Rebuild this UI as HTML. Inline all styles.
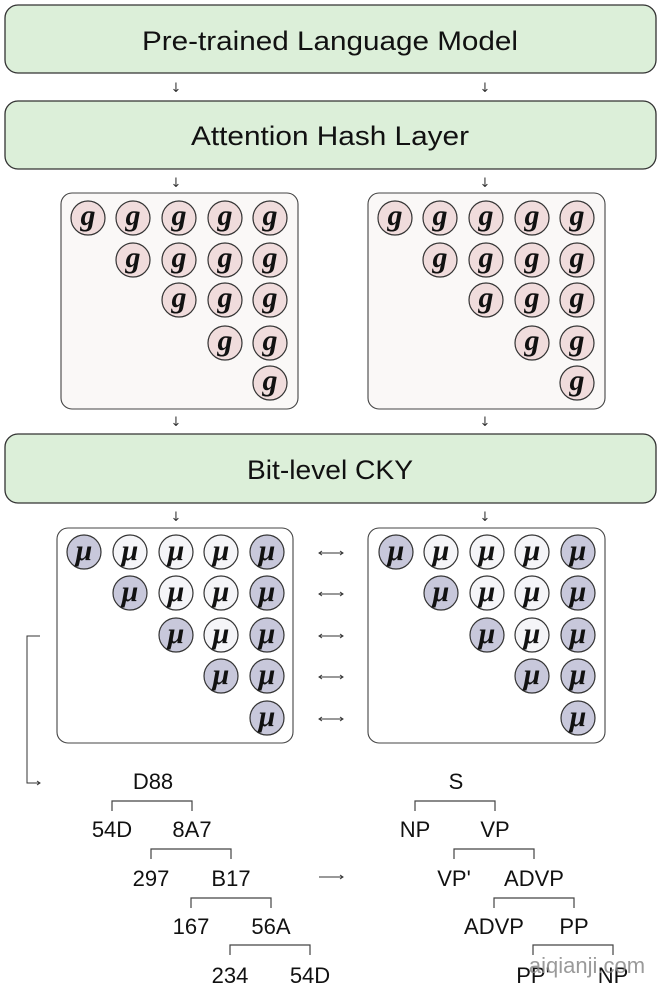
<!DOCTYPE html>
<html><head><meta charset="utf-8"><style>
html,body{margin:0;padding:0;background:#fff;}
svg{display:block;}
.t{font-family:"Liberation Sans",sans-serif;fill:#111;}
.g{font-family:"Liberation Serif",serif;font-style:italic;font-weight:bold;font-size:30px;fill:#111;text-anchor:middle;}
.tr{font-family:"Liberation Sans",sans-serif;font-size:22px;fill:#111;text-anchor:middle;}
.ar{font-family:"DejaVu Sans",sans-serif;font-size:13px;fill:#333;text-anchor:middle;}
</style></head><body>
<svg width="660" height="984" viewBox="0 0 660 984" xmlns="http://www.w3.org/2000/svg">
<defs>
<g id="gc"><circle r="17" fill="#f0dcdc" stroke="#333" stroke-width="1.2"/><text class="g" y="7">g</text></g>
<g id="md"><circle r="17" fill="#c8c8db" stroke="#333" stroke-width="1.2"/><text class="g" y="8">μ</text></g>
<g id="ml"><circle r="17" fill="#f5f5f8" stroke="#333" stroke-width="1.2"/><text class="g" y="8">μ</text></g>
</defs>
<rect x="5" y="5" width="651" height="68" rx="13" fill="#dcefd9" stroke="#333" stroke-width="1.3"/>
<text class="t" x="330" y="50" font-size="27" text-anchor="middle" textLength="376" lengthAdjust="spacingAndGlyphs">Pre-trained Language Model</text>
<rect x="5" y="101" width="651" height="68" rx="13" fill="#dcefd9" stroke="#333" stroke-width="1.3"/>
<text class="t" x="330" y="145" font-size="27" text-anchor="middle" textLength="278" lengthAdjust="spacingAndGlyphs">Attention Hash Layer</text>
<rect x="5" y="434" width="651" height="69" rx="13" fill="#dcefd9" stroke="#333" stroke-width="1.3"/>
<text class="t" x="330" y="479" font-size="27" text-anchor="middle" textLength="166" lengthAdjust="spacingAndGlyphs">Bit-level CKY</text>
<text class="ar" x="176" y="92">↓</text><text class="ar" x="485" y="92">↓</text>
<text class="ar" x="176" y="187">↓</text><text class="ar" x="485" y="187">↓</text>
<text class="ar" x="176" y="426">↓</text><text class="ar" x="485" y="426">↓</text>
<text class="ar" x="176" y="521">↓</text><text class="ar" x="485" y="521">↓</text>
<rect x="61" y="193" width="237" height="216" rx="11" fill="#faf8f7" stroke="#444" stroke-width="1.1"/>
<rect x="368" y="193" width="237" height="216" rx="11" fill="#faf8f7" stroke="#444" stroke-width="1.1"/>
<rect x="57" y="528" width="236" height="215" rx="11" fill="#fff" stroke="#444" stroke-width="1.1"/>
<rect x="368" y="528" width="237" height="215" rx="11" fill="#fff" stroke="#444" stroke-width="1.1"/>
<use href="#gc" x="88" y="218"/><use href="#gc" x="133" y="218"/><use href="#gc" x="179" y="218"/><use href="#gc" x="225" y="218"/><use href="#gc" x="270" y="218"/>
<use href="#gc" x="133" y="260"/><use href="#gc" x="179" y="260"/><use href="#gc" x="225" y="260"/><use href="#gc" x="270" y="260"/>
<use href="#gc" x="179" y="300"/><use href="#gc" x="225" y="300"/><use href="#gc" x="270" y="300"/>
<use href="#gc" x="225" y="343"/><use href="#gc" x="270" y="343"/>
<use href="#gc" x="270" y="383"/>
<use href="#gc" x="395" y="218"/><use href="#gc" x="440" y="218"/><use href="#gc" x="486" y="218"/><use href="#gc" x="532" y="218"/><use href="#gc" x="577" y="218"/>
<use href="#gc" x="440" y="260"/><use href="#gc" x="486" y="260"/><use href="#gc" x="532" y="260"/><use href="#gc" x="577" y="260"/>
<use href="#gc" x="486" y="300"/><use href="#gc" x="532" y="300"/><use href="#gc" x="577" y="300"/>
<use href="#gc" x="532" y="343"/><use href="#gc" x="577" y="343"/>
<use href="#gc" x="577" y="383"/>
<use href="#md" x="84" y="552"/><use href="#ml" x="130" y="552"/><use href="#ml" x="176" y="552"/><use href="#ml" x="221" y="552"/><use href="#md" x="267" y="552"/>
<use href="#md" x="130" y="593"/><use href="#ml" x="176" y="593"/><use href="#ml" x="221" y="593"/><use href="#md" x="267" y="593"/>
<use href="#md" x="176" y="635"/><use href="#ml" x="221" y="635"/><use href="#md" x="267" y="635"/>
<use href="#md" x="221" y="676"/><use href="#md" x="267" y="676"/>
<use href="#md" x="267" y="718"/>
<use href="#md" x="396" y="552"/><use href="#ml" x="441" y="552"/><use href="#ml" x="487" y="552"/><use href="#ml" x="532" y="552"/><use href="#md" x="578" y="552"/>
<use href="#md" x="441" y="593"/><use href="#ml" x="487" y="593"/><use href="#ml" x="532" y="593"/><use href="#md" x="578" y="593"/>
<use href="#md" x="487" y="635"/><use href="#ml" x="532" y="635"/><use href="#md" x="578" y="635"/>
<use href="#md" x="532" y="676"/><use href="#md" x="578" y="676"/>
<use href="#md" x="578" y="718"/>
<g stroke="#333" stroke-width="1" fill="none">
<path d="M319 553H343M322 551L319 553L322 555M340 551L343 553L340 555"/>
<path d="M319 594H343M322 592L319 594L322 596M340 592L343 594L340 596"/>
<path d="M319 636H343M322 634L319 636L322 638M340 634L343 636L340 638"/>
<path d="M319 677H343M322 675L319 677L322 679M340 675L343 677L340 679"/>
<path d="M319 719H343M322 717L319 719L322 721M340 717L343 719L340 721"/>
<path d="M40 636H27V783H40M37 781L40 783L37 785"/>
<path d="M319 877H343M340 875L343 877L340 879"/>
</g>
<g stroke="#444" stroke-width="1.2" fill="none">
<path d="M112 811V801H192V811"/><path d="M151 859V849H231V859"/><path d="M191 908V898H271V908"/><path d="M230 955V945H310V955"/>
<path d="M415 811V801H495V811"/><path d="M454 859V849H534V859"/><path d="M494 908V898H574V908"/><path d="M533 955V945H613V955"/>
</g>
<text class="tr" x="153" y="789">D88</text>
<text class="tr" x="112" y="837">54D</text><text class="tr" x="192" y="837">8A7</text>
<text class="tr" x="151" y="886">297</text><text class="tr" x="231" y="886">B17</text>
<text class="tr" x="191" y="934">167</text><text class="tr" x="271" y="934">56A</text>
<text class="tr" x="230" y="983">234</text><text class="tr" x="310" y="983">54D</text>
<text class="tr" x="456" y="789">S</text>
<text class="tr" x="415" y="837">NP</text><text class="tr" x="495" y="837">VP</text>
<text class="tr" x="454" y="886">VP'</text><text class="tr" x="534" y="886">ADVP</text>
<text class="tr" x="494" y="934">ADVP</text><text class="tr" x="574" y="934">PP</text>
<text class="tr" x="533" y="983">PP'</text><text class="tr" x="613" y="983">NP</text>
<text x="587" y="973" font-family="Liberation Sans,sans-serif" font-size="22" fill="#888" fill-opacity="0.85" text-anchor="middle">aiqianji.com</text>
</svg>
</body></html>
